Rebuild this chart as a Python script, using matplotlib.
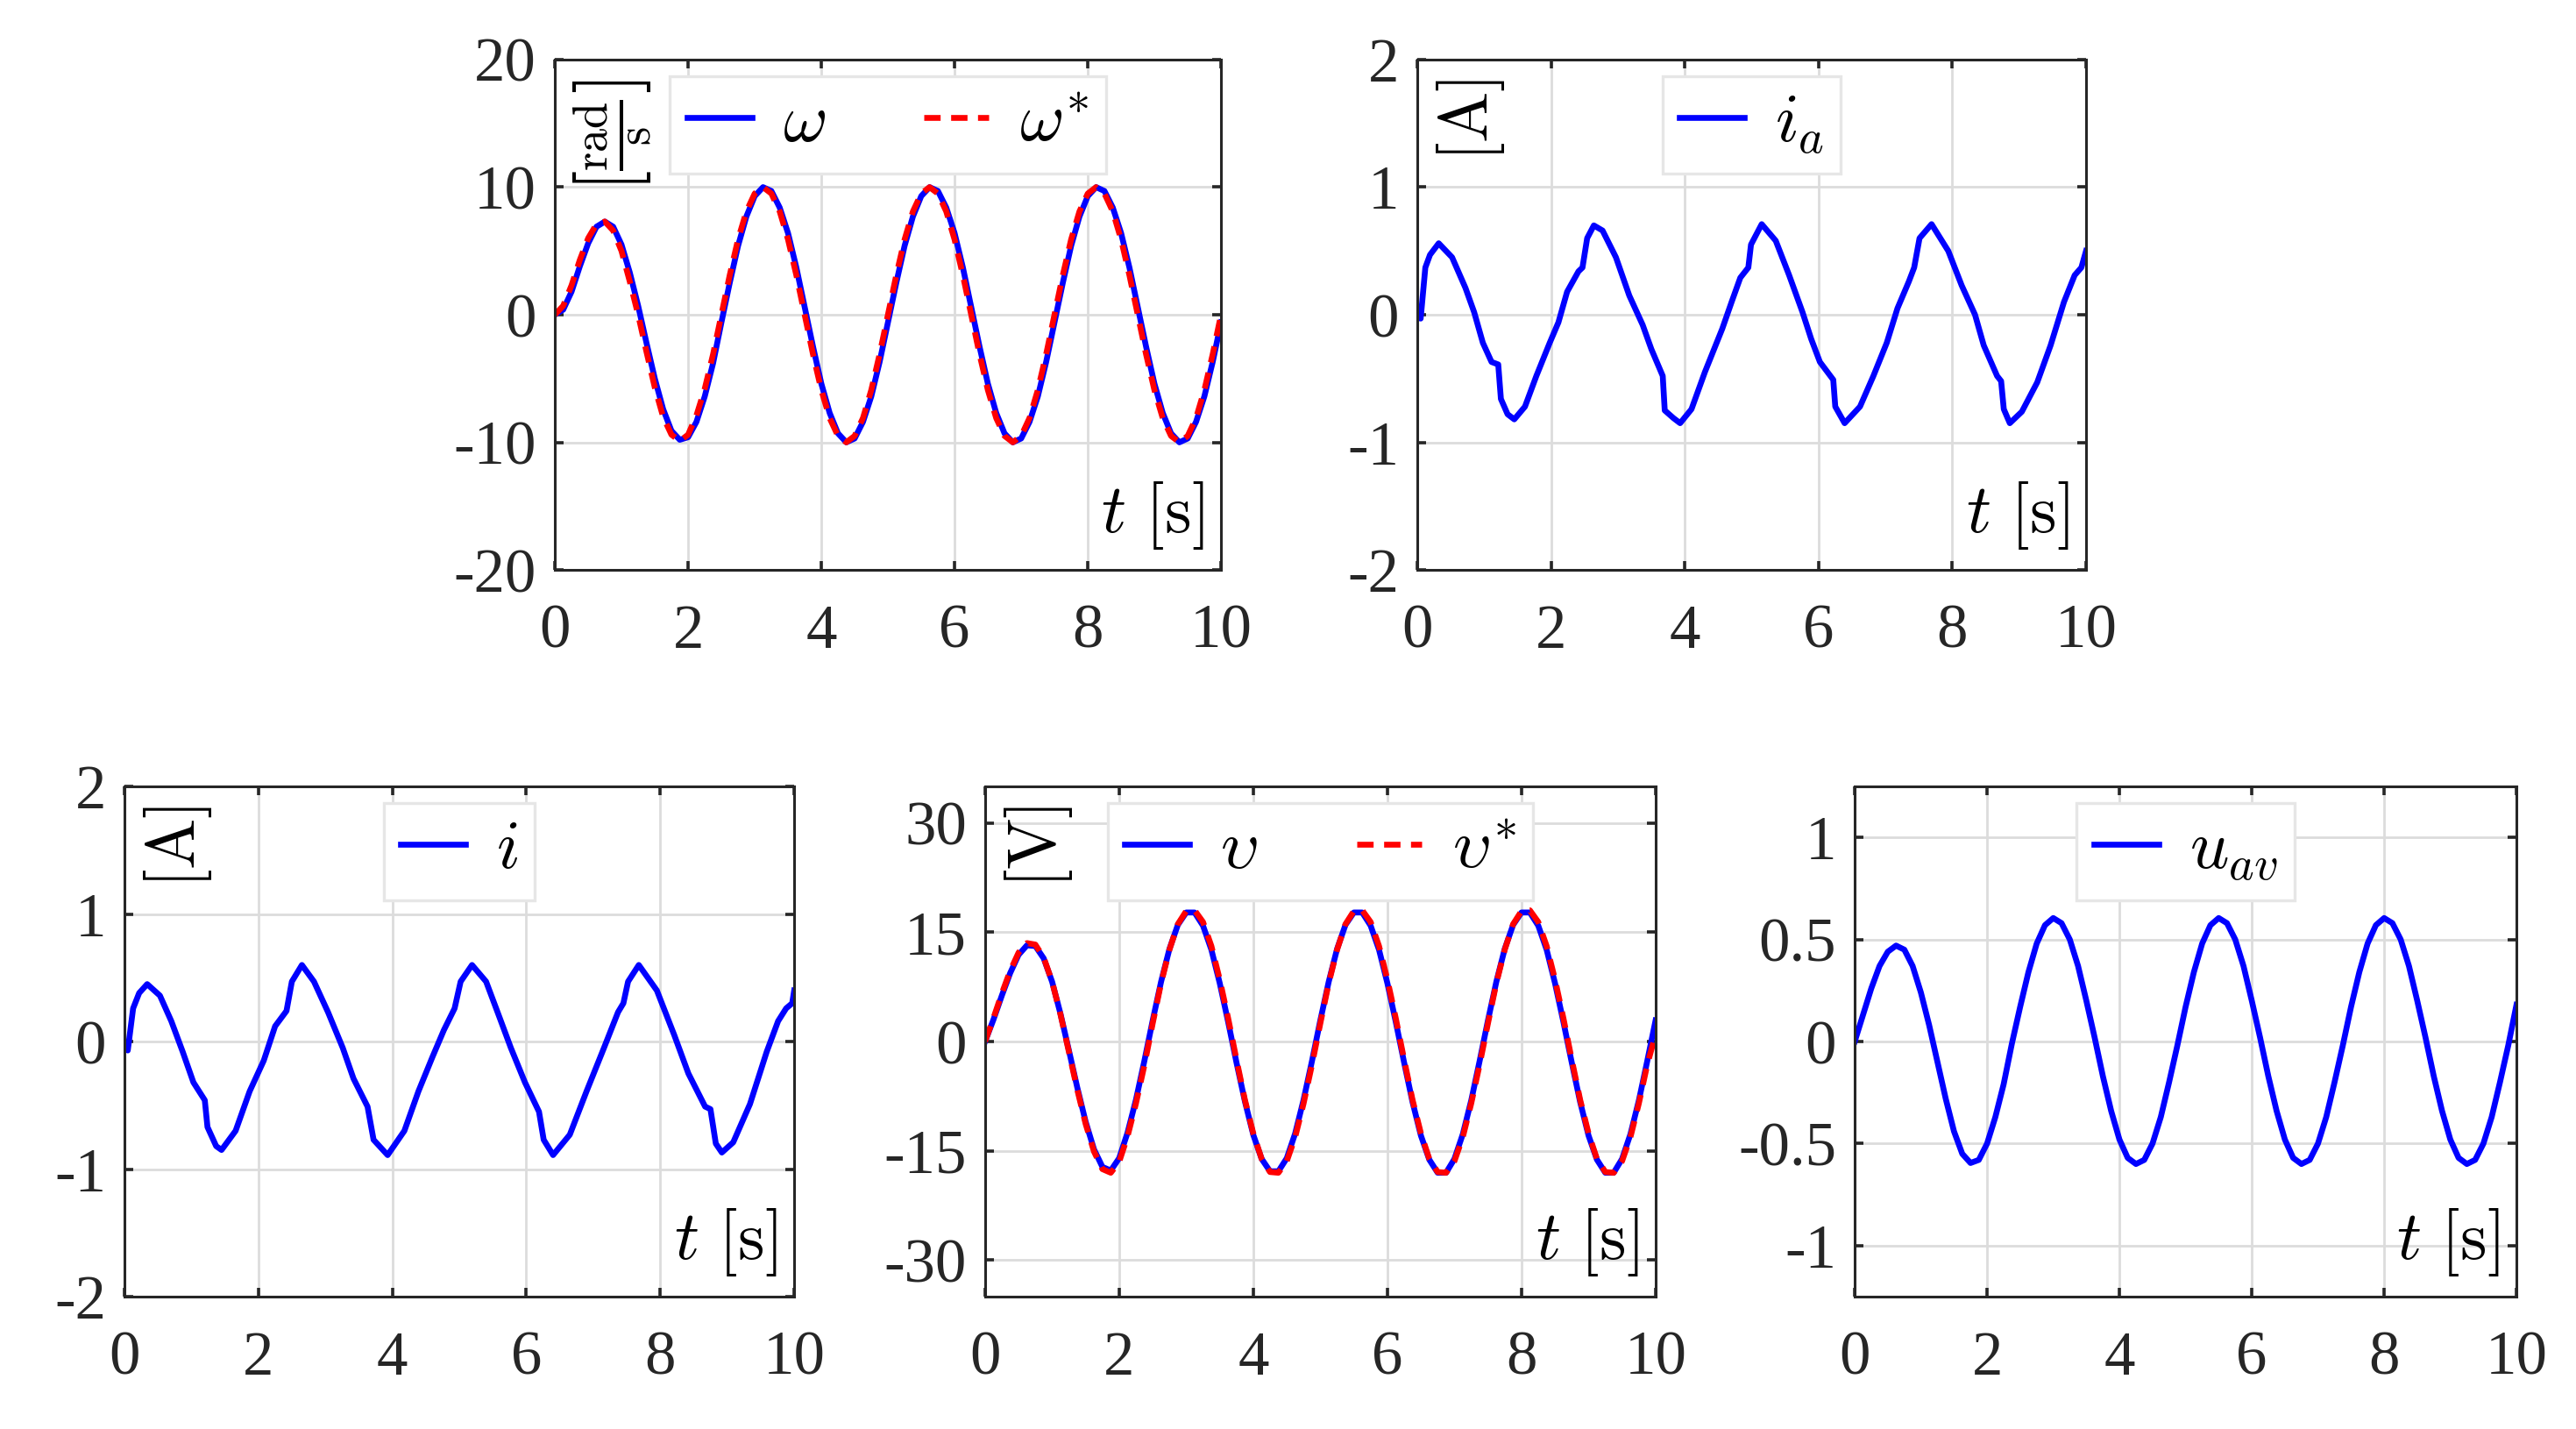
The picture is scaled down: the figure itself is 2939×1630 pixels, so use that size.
import matplotlib.pyplot as plt
import numpy as np

plt.rcParams['font.family'] = 'serif'
plt.rcParams['font.serif'] = ['Liberation Serif', 'DejaVu Serif']
plt.rcParams['mathtext.fontset'] = 'cm'
plt.rcParams['axes.unicode_minus'] = False

# base de tiempos de las senales muestreadas cada 0.125 s
t = np.linspace(0, 10, 81)

# velocidad angular medida y de referencia [rad/s]
omega = [0.0, 0.4, 1.8, 3.8, 5.6, 6.9, 7.3, 6.9, 5.5, 3.3, 0.7, -2.2, -5.0, -7.4, -9.1, -9.8, -9.6, -8.4, -6.4, -3.8, -0.6,
         2.5, 5.4, 7.7, 9.3, 10.0, 9.7, 8.4, 6.4, 3.7, 0.6, -2.5, -5.4, -7.7, -9.3, -10.0, -9.7, -8.4, -6.4, -3.7, -0.6,
         2.5, 5.4, 7.7, 9.3, 10.0, 9.7, 8.4, 6.4, 3.7, 0.6, -2.5, -5.4, -7.7, -9.3, -10.0, -9.7, -8.4, -6.4, -3.7, -0.6,
         2.5, 5.4, 7.7, 9.3, 10.0, 9.7, 8.4, 6.4, 3.7, 0.6, -2.5, -5.4, -7.7, -9.3, -10.0, -9.7, -8.4, -6.4, -3.7, -0.6]
omega_ref = [0.0, 0.7, 2.3, 4.3, 6.0, 7.1, 7.3, 6.6, 5.0, 2.6, 0.0, -2.9, -5.7, -8.0, -9.4, -9.9, -9.4, -7.9, -5.8, -3.1, 0.0,
             3.1, 5.9, 8.1, 9.5, 10.0, 9.5, 8.1, 5.9, 3.1, 0.0, -3.1, -5.9, -8.1, -9.5, -10.0, -9.5, -8.1, -5.9, -3.1, 0.0,
             3.1, 5.9, 8.1, 9.5, 10.0, 9.5, 8.1, 5.9, 3.1, 0.0, -3.1, -5.9, -8.1, -9.5, -10.0, -9.5, -8.1, -5.9, -3.1, 0.0,
             3.1, 5.9, 8.1, 9.5, 10.0, 9.5, 8.1, 5.9, 3.1, 0.0, -3.1, -5.9, -8.1, -9.5, -10.0, -9.5, -8.1, -5.9, -3.1, 0.0]

# tension medida y de referencia [V]
v = [0.0, 3.0, 6.3, 9.4, 11.9, 13.2, 13.1, 11.4, 8.2, 3.8, -1.2, -6.3, -11.0, -14.8, -17.2, -17.7, -16.0, -12.5, -8.0, -2.7, 2.9,
     8.2, 12.7, 16.0, 17.7, 17.7, 15.9, 12.6, 8.0, 2.7, -2.9, -8.2, -12.8, -16.1, -17.8, -17.8, -16.0, -12.6, -8.0, -2.7, 2.9,
     8.2, 12.7, 16.0, 17.7, 17.7, 15.9, 12.6, 8.0, 2.7, -2.9, -8.3, -12.9, -16.2, -18.0, -18.0, -16.1, -12.7, -8.1, -2.7, 2.9,
     8.2, 12.7, 16.0, 17.7, 17.7, 15.9, 12.6, 8.0, 2.7, -2.9, -8.3, -12.9, -16.2, -18.0, -18.0, -16.1, -12.7, -8.1, -2.7, 2.9]
v_ref = [0.0, 3.2, 6.6, 9.7, 12.2, 13.5, 13.3, 11.5, 8.2, 3.7, -1.4, -6.6, -11.3, -15.1, -17.5, -18.0, -16.5, -13.0, -8.5, -3.3, 2.5,
         8.0, 12.6, 16.1, 17.9, 18.0, 16.4, 13.1, 8.5, 3.2, -2.5, -8.0, -12.6, -16.1, -17.9, -18.0, -16.4, -13.1, -8.5, -3.2, 2.5,
         8.0, 12.6, 16.1, 17.9, 18.0, 16.4, 13.1, 8.5, 3.2, -2.5, -8.0, -12.6, -16.1, -17.9, -18.0, -16.4, -13.1, -8.5, -3.2, 2.5,
         8.0, 12.6, 16.1, 17.9, 18.0, 16.4, 13.1, 8.5, 3.2, -2.5, -8.0, -12.6, -16.1, -17.9, -18.0, -16.4, -13.1, -8.5, -3.2, 1.0]

# accion de control media
u_av = [0.0, 0.13, 0.26, 0.37, 0.44, 0.47, 0.45, 0.37, 0.24, 0.08, -0.10, -0.28, -0.44, -0.55, -0.595, -0.58, -0.50, -0.37, -0.21, -0.01, 0.17,
        0.34, 0.48, 0.57, 0.605, 0.58, 0.50, 0.37, 0.20, 0.02, -0.17, -0.34, -0.48, -0.57, -0.60, -0.58, -0.50, -0.37, -0.20, -0.02, 0.17,
        0.34, 0.48, 0.57, 0.605, 0.58, 0.50, 0.37, 0.20, 0.02, -0.17, -0.34, -0.48, -0.57, -0.60, -0.58, -0.50, -0.37, -0.20, -0.02, 0.17,
        0.34, 0.48, 0.57, 0.605, 0.58, 0.50, 0.37, 0.20, 0.02, -0.17, -0.34, -0.48, -0.57, -0.60, -0.58, -0.50, -0.37, -0.20, -0.02, 0.18]

# corriente de armadura i_a [A] (muestreo irregular)
t_ia = [0.0, 0.05, 0.12, 0.19, 0.32, 0.52, 0.72, 0.85, 0.98, 1.11, 1.21, 1.25, 1.35, 1.45, 1.61, 1.78, 1.98, 2.11, 2.24, 2.41,
        2.47, 2.54, 2.64, 2.77, 2.97, 3.17, 3.37, 3.50, 3.67, 3.70, 3.83, 3.93, 4.10, 4.30, 4.56, 4.70, 4.83, 4.95, 4.99, 5.15,
        5.36, 5.56, 5.76, 5.89, 6.02, 6.22, 6.25, 6.39, 6.62, 6.82, 7.02, 7.18, 7.35, 7.43, 7.51, 7.69, 7.94, 8.14, 8.34, 8.47,
        8.67, 8.73, 8.77, 8.86, 9.04, 9.27, 9.47, 9.67, 9.83, 9.93, 10.0]
ia = [-0.02, -0.03, 0.37, 0.47, 0.56, 0.45, 0.21, 0.02, -0.22, -0.37, -0.39, -0.66, -0.78, -0.82, -0.72, -0.48, -0.22, -0.06, 0.18, 0.34,
      0.37, 0.60, 0.70, 0.66, 0.45, 0.15, -0.08, -0.27, -0.48, -0.75, -0.81, -0.85, -0.74, -0.45, -0.11, 0.10, 0.29, 0.37, 0.55, 0.71,
      0.58, 0.31, 0.02, -0.19, -0.37, -0.51, -0.72, -0.85, -0.72, -0.48, -0.22, 0.05, 0.26, 0.37, 0.60, 0.71, 0.50, 0.23, 0.0, -0.24,
      -0.48, -0.52, -0.74, -0.85, -0.76, -0.53, -0.24, 0.10, 0.31, 0.37, 0.50]

# corriente i [A]
t_i = [0.0, 0.05, 0.13, 0.22, 0.34, 0.53, 0.70, 0.87, 1.03, 1.20, 1.24, 1.37, 1.45, 1.66, 1.87, 2.08, 2.25, 2.42, 2.50, 2.65,
       2.83, 3.04, 3.26, 3.42, 3.63, 3.72, 3.93, 4.18, 4.39, 4.60, 4.77, 4.93, 5.02, 5.19, 5.40, 5.60, 5.77, 5.98, 6.19, 6.26,
       6.40, 6.65, 6.90, 7.16, 7.37, 7.45, 7.52, 7.68, 7.95, 8.21, 8.42, 8.67, 8.75, 8.83, 8.92, 9.09, 9.34, 9.59, 9.76, 9.88,
       9.97, 10.0]
i_med = [-0.01, -0.07, 0.26, 0.38, 0.45, 0.36, 0.16, -0.08, -0.32, -0.46, -0.67, -0.82, -0.85, -0.70, -0.39, -0.15, 0.12, 0.24, 0.47, 0.60,
         0.47, 0.23, -0.05, -0.29, -0.51, -0.77, -0.89, -0.70, -0.39, -0.12, 0.09, 0.26, 0.47, 0.60, 0.47, 0.19, -0.05, -0.32, -0.55, -0.77,
         -0.89, -0.73, -0.39, -0.05, 0.23, 0.30, 0.47, 0.60, 0.40, 0.05, -0.25, -0.51, -0.53, -0.80, -0.87, -0.79, -0.49, -0.08, 0.16, 0.26,
         0.30, 0.40]

azul = '#0000ff'
rojo = '#ff0000'
gris = '#262626'
discontinua = (0, (2.8, 1.8))

fig = plt.figure(figsize=(14.695, 8.15), dpi=200)


def panel(pos, ylim, yticks, yticklabels, unidad, curvas):
    ax = fig.add_axes(pos)
    for x, y, nombre, color, estilo in curvas:
        ax.plot(x, y, color=color, lw=2.4, ls=estilo, label=nombre)
    ax.set_xlim(0, 10)
    ax.set_ylim(ylim)
    ax.set_xticks([0, 2, 4, 6, 8, 10])
    ax.set_yticks(yticks)
    ax.set_yticklabels(yticklabels)
    ax.grid(True, color='#dcdcdc', lw=1.0)
    ax.set_axisbelow(True)
    for s in ax.spines.values():
        s.set_color(gris)
        s.set_linewidth(1.1)
    ax.tick_params(direction='in', top=True, right=True, length=3.5, width=1.3,
                   color=gris, labelcolor=gris, labelsize=25.5)
    ax.tick_params(axis='x', pad=14)
    ax.tick_params(axis='y', pad=7.5)
    leg = ax.legend(loc='upper center', ncol=len(curvas), fontsize=28, frameon=True,
                    fancybox=False, framealpha=1, edgecolor='#e6e6e6',
                    handlelength=0.95, handletextpad=0.45, columnspacing=1.45,
                    borderpad=0.25, borderaxespad=0.25)
    leg.get_frame().set_linewidth(1.2)
    if unidad:
        ax.text(0.026, 0.962, unidad, transform=ax.transAxes, rotation=90,
                ha='left', va='top', fontsize=28, color='black')
    ax.text(0.974, 0.037, r'$t\ [\mathrm{s}]$', transform=ax.transAxes,
            ha='right', va='bottom', fontsize=28, color='black')
    return ax


panel([0.2154, 0.6012, 0.2586, 0.3571], (-20, 20), [-20, -10, 0, 10, 20],
      ['-20', '-10', '0', '10', '20'], r'$\left[\frac{\mathrm{rad}}{\mathrm{s}}\right]$',
      [(t, omega, r'$\omega$', azul, '-'), (t, omega_ref, r'$\omega^{*}$', rojo, discontinua)])

panel([0.5502, 0.6012, 0.2596, 0.3571], (-2, 2), [-2, -1, 0, 1, 2],
      ['-2', '-1', '0', '1', '2'], r'$[\mathrm{A}]$',
      [(t_ia, ia, r'$i_a$', azul, '-')])

panel([0.0483, 0.0926, 0.2600, 0.3571], (-2, 2), [-2, -1, 0, 1, 2],
      ['-2', '-1', '0', '1', '2'], r'$[\mathrm{A}]$',
      [(t_i, i_med, r'$i$', azul, '-')])

panel([0.3824, 0.0926, 0.2603, 0.3571], (-35, 35), [-30, -15, 0, 15, 30],
      ['-30', '-15', '0', '15', '30'], r'$[\mathrm{V}]$',
      [(t, v, r'$\upsilon$', azul, '-'), (t, v_ref, r'$\upsilon^{*}$', rojo, discontinua)])

panel([0.7200, 0.0926, 0.2569, 0.3571], (-1.25, 1.25), [-1, -0.5, 0, 0.5, 1],
      ['-1', '-0.5', '0', '0.5', '1'], None,
      [(t, u_av, r'$u_{av}$', azul, '-')])

fig.savefig('out.png', dpi=200)
